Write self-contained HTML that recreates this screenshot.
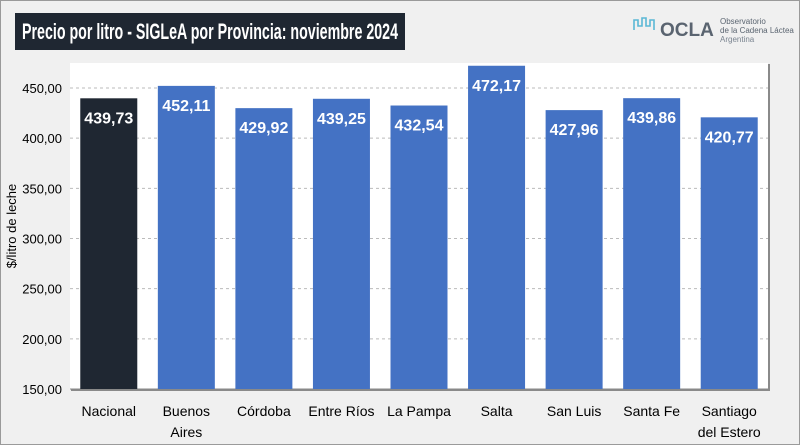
<!DOCTYPE html>
<html><head><meta charset="utf-8"><style>
body{margin:0;width:800px;height:445px;background:#f0f0f0;font-family:"Liberation Sans",sans-serif;overflow:hidden}
#frame{position:absolute;left:0;top:0;width:798px;height:443px;border:1px solid #9a9a9a;background:#f0f0f0}
</style></head><body>
<div id="frame"></div>
<svg id="chart" width="800" height="445" style="position:absolute;left:0;top:0;font-family:'Liberation Sans',sans-serif">
<rect x="15" y="13" width="390" height="37" fill="#1f2732"/>
<text x="210" y="39" text-anchor="middle" font-size="22" font-weight="bold" fill="#fff" textLength="376" lengthAdjust="spacingAndGlyphs">Precio por litro - SIGLeA por Provincia: noviembre 2024</text>
<g>
<path d="M634 30 v-10 h4 v6 h4 v-8 h4 v8 h4 v-6 h4 v10" fill="none" stroke="#5bb8d6" stroke-width="1.6"/>
<text x="660" y="36" font-size="19" font-weight="bold" fill="#5a6470">OCLA</text>
<text x="720" y="24" font-size="8" fill="#5a6470">Observatorio</text>
<text x="720" y="33" font-size="8" fill="#5a6470">de la Cadena Láctea</text>
<text x="720" y="42" font-size="8" fill="#7a8490">Argentina</text>
</g>
<rect x="71" y="64" width="699" height="327" fill="#8a8a8a"/>
<rect x="70" y="63" width="698" height="326" fill="#fff"/>
<g id="grid"></g><g id="bars"></g><g id="ylab"></g><g id="xlab"></g>
<text transform="translate(16,226) rotate(-90)" text-anchor="middle" font-size="13" fill="#000">$/litro de leche</text>
</svg>
<script>
const categories=[["Nacional"],["Buenos","Aires"],["Córdoba"],["Entre Ríos"],["La Pampa"],["Salta"],["San Luis"],["Santa Fe"],["Santiago","del Estero"]];
const values=[439.73,452.11,429.92,439.25,432.54,472.17,427.96,439.86,420.77];
const valueLabels=["439,73","452,11","429,92","439,25","432,54","472,17","427,96","439,86","420,77"];
const yTicks=[150,200,250,300,350,400,450];
const yTickLabels=["150,00","200,00","250,00","300,00","350,00","400,00","450,00"];
const NS="http://www.w3.org/2000/svg";
const x0=70,pw=698,yb=389,yMin=150,pxPer=301/300;
const y=v=>yb-(v-yMin)*pxPer;
const bw=pw/categories.length;
const xc=i=>x0+bw*(i+0.5);
function mk(t,a,p){const e=document.createElementNS(NS,t);for(const k in a)e.setAttribute(k,a[k]);p.appendChild(e);return e;}
const G=document.getElementById('grid'),B=document.getElementById('bars'),YL=document.getElementById('ylab'),XL=document.getElementById('xlab');
yTicks.forEach((t,i)=>{
 if(t>yMin){const l=mk('line',{x1:x0,x2:x0+pw,y1:y(t),y2:y(t),stroke:'#bbb','stroke-dasharray':'3,3'},G);
 
 }
 const tx=mk('text',{x:62,y:y(t)+5,'text-anchor':'end','font-size':13},YL);tx.textContent=yTickLabels[i];
 
 
});
values.forEach((v,i)=>{
 const r=mk('rect',{x:xc(i)-28.5,y:y(v),width:57,height:yb-y(v),fill:i==0?'#1f2732':'#4472c4'},B);
 
 
 const t=mk('text',{x:xc(i),y:y(v)+25,'text-anchor':'middle','font-size':16,'font-weight':'bold',fill:'#fff'},B);t.textContent=valueLabels[i];
 
 
 categories[i].forEach((s,j)=>{const c=mk('text',{x:xc(i),y:416+j*21,'text-anchor':'middle','font-size':14},XL);c.textContent=s;
 
 });
});
mk('line',{x1:x0,x2:x0+pw,y1:yb,y2:yb,stroke:'#888'},G);
</script>
</body></html>
